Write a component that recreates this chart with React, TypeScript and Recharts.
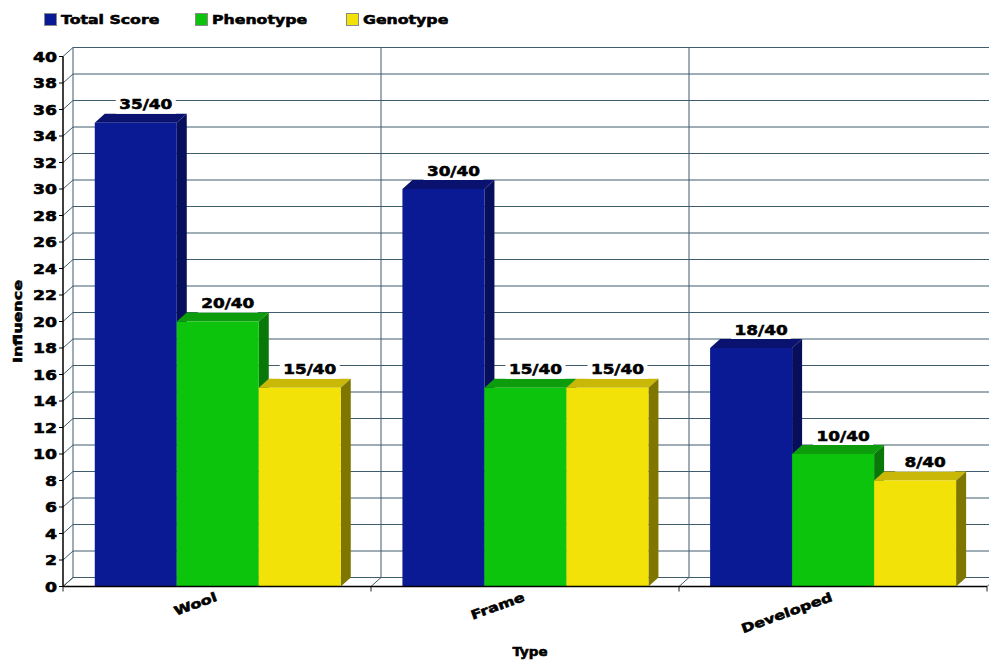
import React from "react";
import { BarChart, Bar, XAxis, YAxis, CartesianGrid, Legend, LabelList, Label } from "recharts";

const categories = ["Wool", "Frame", "Developed"];
const totalScore = [35, 30, 18];
const phenotype = [20, 15, 10];
const genotype = [15, 15, 8];
const maxScore = 40;
const yTicks = [0, 2, 4, 6, 8, 10, 12, 14, 16, 18, 20, 22, 24, 26, 28, 30, 32, 34, 36, 38, 40];

const rows = categories.map((type, i) => ({
  type,
  total: totalScore[i],
  phenotype: phenotype[i],
  genotype: genotype[i],
}));

const DX = 10;
const DY = 9;
const GRID = "#3f5c6c";
const FONT = '"DejaVu Sans", sans-serif';

const WideText = ({ x, y, sx = 1.25, rot = 0, size = 13.5, anchor = "middle", children }: any) => (
  <text
    transform={`translate(${x} ${y}) rotate(${rot}) scale(${sx} 1)`}
    textAnchor={anchor}
    fontFamily={FONT}
    fontWeight={700}
    fontSize={size}
    fill="#000"
    stroke="#000"
    strokeWidth={0.55}
  >
    {children}
  </text>
);

const box3d = (front: string, top: string, side: string) => (p: any) => {
  const { x, y, width, height } = p;
  return (
    <g>
      <polygon
        points={`${x},${y} ${x + DX},${y - DY} ${x + width + DX},${y - DY} ${x + width},${y}`}
        fill={top}
      />
      <polygon
        points={`${x + width},${y} ${x + width + DX},${y - DY} ${x + width + DX},${y + height - DY} ${x + width},${y + height}`}
        fill={side}
      />
      <rect x={x} y={y} width={width} height={height} fill={front} />
    </g>
  );
};

const ValueLabel = (p: any) => {
  const { x, y, width, value } = p;
  const cx = x + width / 2 + DX;
  return (
    <g>
      <rect x={cx - 30} y={y - 26} width={60} height={17} fill="#fff" />
      <WideText x={cx} y={y - 13.5}>{`${value}/${maxScore}`}</WideText>
    </g>
  );
};

const YTick = (p: any) => (
  <WideText x={p.x} y={p.y + 5} anchor="end" sx={1.28}>
    {p.payload.value}
  </WideText>
);

const XTick = (p: any) => (
  <WideText x={p.x} y={p.y + 6} rot={-20} anchor="end" sx={1.28} size={12.5}>
    {p.payload.value}
  </WideText>
);

const HLine = (p: any) => (
  <polyline
    points={`${p.x1},${p.y1} ${p.x1 + DX},${p.y1 - DY} ${p.x2 + DX},${p.y2 - DY}`}
    fill="none"
    stroke={GRID}
    strokeWidth={1}
  />
);

const VLine = (p: any) => (
  <g>
    <polyline
      points={`${p.x1},${p.y2} ${p.x1 + DX},${p.y2 - DY} ${p.x1 + DX},${p.y1 - DY}`}
      fill="none"
      stroke={GRID}
      strokeWidth={1}
    />
    <line x1={p.x1} y1={p.y2} x2={p.x1} y2={p.y2 + 5} stroke="#222" strokeWidth={1} />
  </g>
);

const LegendContent = ({ payload }: any) => (
  <div style={{ position: "relative", height: 26 }}>
    {(payload || []).map((e: any, i: number) => (
      <div key={e.value} style={{ position: "absolute", left: i * 151, top: 0, width: 151, height: 26 }}>
        <span
          style={{
            position: "absolute",
            left: 0,
            top: 1,
            width: 11,
            height: 11,
            background: e.color,
            border: "0.5px solid #8a8a8a",
          }}
        />
        <svg style={{ position: "absolute", left: 17, top: 0, overflow: "visible" }} width={130} height={26}>
          <WideText x={0} y={11.5} anchor="start" sx={1.26} size={12.5}>
            {e.value}
          </WideText>
        </svg>
      </div>
    ))}
  </div>
);

const verticals = ({ offset }: any) =>
  [0, 1, 2, 3].map((i) => offset.left + (offset.width * i) / categories.length);

export default function App() {
  return (
    <div style={{ position: "absolute", left: 0, top: 0, width: 989, height: 660, background: "#fff" }}>
      <BarChart
        width={989}
        height={660}
        data={rows}
        margin={{ top: 56.5, right: 2, bottom: 0, left: 0 }}
        barCategoryGap="10%"
        barGap={0}
      >
        <CartesianGrid
          horizontal={HLine as any}
          vertical={VLine as any}
          verticalCoordinatesGenerator={verticals as any}
        />
        <XAxis
          dataKey="type"
          height={73.5}
          padding={{ left: 1, right: 0 }}
          tick={XTick as any}
          tickLine={false}
          interval={0}
          axisLine={{ stroke: "#000", strokeWidth: 1.5 }}
        >
          <Label
            content={(p: any) => (
              <WideText x={p.viewBox.x + p.viewBox.width / 2 + 5} y={656} sx={1.12} size={12}>
                Type
              </WideText>
            )}
          />
        </XAxis>
        <YAxis
          width={63}
          domain={[0, maxScore]}
          ticks={yTicks}
          interval={0}
          tick={YTick as any}
          tickSize={4}
          tickLine={{ stroke: "#000" }}
          axisLine={{ stroke: "#000", strokeWidth: 1.5 }}
        >
          <Label
            content={(p: any) => (
              <WideText x={22} y={p.viewBox.y + p.viewBox.height / 2} rot={-90} sx={1.33} size={12}>
                Influence
              </WideText>
            )}
          />
        </YAxis>
        <Legend
          verticalAlign="middle"
          align="center"
          itemSorter={null as any}
          content={LegendContent as any}
          wrapperStyle={{ position: "absolute", left: 44, top: 12, width: 500 }}
        />
        <Bar dataKey="total" name="Total Score" fill="#0a1a94" isAnimationActive={false} shape={box3d("#0a1a94", "#0a1270", "#070e5c") as any}>
          <LabelList dataKey="total" content={ValueLabel as any} />
        </Bar>
        <Bar dataKey="phenotype" name="Phenotype" fill="#0cc40c" isAnimationActive={false} shape={box3d("#0cc40c", "#0c9c0c", "#087808") as any}>
          <LabelList dataKey="phenotype" content={ValueLabel as any} />
        </Bar>
        <Bar dataKey="genotype" name="Genotype" fill="#f2e208" isAnimationActive={false} shape={box3d("#f2e208", "#c9b808", "#7f7600") as any}>
          <LabelList dataKey="genotype" content={ValueLabel as any} />
        </Bar>
      </BarChart>
    </div>
  );
}
